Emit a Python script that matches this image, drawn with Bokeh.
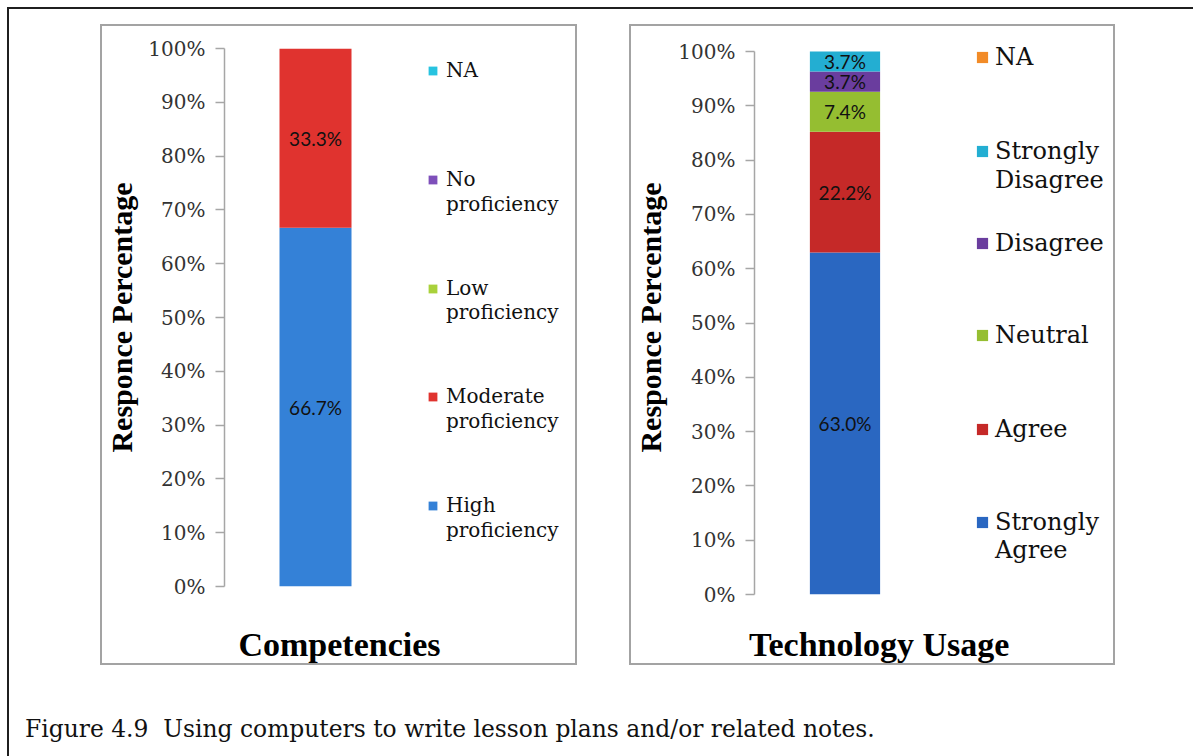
from bokeh.plotting import figure
from bokeh.models import (Range1d, FixedTicker, PrintfTickFormatter, Legend, LegendItem,
                          ColumnDataSource, LinearAxis, Spacer, Div)
from bokeh.layouts import row, column
from bokeh.core.properties import value
from bokeh.embed import file_html
from bokeh.resources import INLINE

# ---------------- data ----------------
comp_categories = ["High proficiency", "Moderate proficiency", "Low proficiency", "No proficiency", "NA"]
comp_values = [66.7, 33.3, 0.0, 0.0, 0.0]
comp_legend_labels = ["High\nproficiency", "Moderate\nproficiency", "Low\nproficiency", "No\nproficiency", "NA"]
comp_colors = ["#3481d7", "#e0332f", "#a9d13b", "#7e4fba", "#27c3e0"]

tech_categories = ["Strongly Agree", "Agree", "Neutral", "Disagree", "Strongly Disagree", "NA"]
tech_values = [63.0, 22.2, 7.4, 3.7, 3.7, 0.0]
tech_legend_labels = ["Strongly\nAgree", "Agree", "Neutral", "Disagree", "Strongly\nDisagree", "NA"]
tech_colors = ["#2a67c1", "#c52928", "#95be31", "#6a3d9e", "#23aed2", "#f28b27"]

y_ticks = list(range(0, 101, 10))
y_title = "Responce Percentage"
comp_title = "Competencies"
tech_title = "Technology Usage"
caption = "Figure 4.9\u00a0 Using computers to write lesson plans and/or related notes."


def make_panel(cats, vals, labels, colors, x_title, g):
    frame_h = g["h"] - g["bt"] - g["bb"]          # pixels of the whole frame
    y_end = 100.0 * frame_h / g["zero_px"]         # frame extends a little above 100 %
    frame_w = g["w"] - g["bl"] - g["br"]
    x_end = g["x0"] + frame_w / g["ppu"]
    p = figure(width=g["w"], height=g["h"], output_backend="svg", toolbar_location=None,
               x_range=Range1d(g["x0"], x_end), y_range=Range1d(0, y_end),
               x_axis_location=None,
               min_border_left=g["bl"], min_border_right=g["br"],
               min_border_top=g["bt"], min_border_bottom=g["bb"],
               styles={"border": "2px solid #a3a3a3"})
    p.outline_line_color = None
    p.xgrid.visible = False
    p.ygrid.visible = False
    p.background_fill_color = "white"
    p.border_fill_color = "white"

    bottoms, tops = [], []
    acc = 0.0
    for v in vals:
        bottoms.append(acc)
        acc += v
        tops.append(acc)
    src = ColumnDataSource(dict(x=[0] * len(cats), bottom=bottoms, top=tops, color=colors, cat=cats))
    r = p.vbar(x="x", bottom="bottom", top="top", width=g["bw"], fill_color="color",
               line_color=None, source=src)
    # empty, invisible renderer used only for the continuation lines of legend labels
    ghost = p.vbar(x=[], bottom=[], top=[], width=g["bw"], fill_alpha=0, line_alpha=0)

    lab_x, lab_y, lab_t = [], [], []
    for b, t, v in zip(bottoms, tops, vals):
        if v > 0:
            lab_x.append(0)
            lab_y.append((b + t) / 2)
            lab_t.append(f"{v:.1f}%")
    p.text(x=lab_x, y=lab_y, text=lab_t, text_align="center", text_baseline="middle",
           text_font=value("Lato"), text_font_size="19px", text_color="#111111")

    ax = p.yaxis[0]
    ax.ticker = FixedTicker(ticks=y_ticks)
    ax.formatter = PrintfTickFormatter(format="%d%%")
    ax.bounds = (0, 100)
    ax.axis_line_color = "#a6a6a6"
    ax.axis_line_width = 1.5
    ax.major_tick_line_color = "#a6a6a6"
    ax.major_tick_line_width = 1.5
    ax.major_tick_out = 9
    ax.major_tick_in = 0
    ax.minor_tick_out = 0
    ax.minor_tick_in = 0
    ax.major_label_standoff = 10
    ax.major_label_text_font = "DejaVu Serif"
    ax.major_label_text_font_size = "20px"
    ax.major_label_text_color = "#333333"
    ax.axis_label = y_title
    ax.axis_label_text_font = "Liberation Serif"
    ax.axis_label_text_font_size = "30px"
    ax.axis_label_text_font_style = "bold"
    ax.axis_label_text_color = "#000000"
    ax.axis_label_standoff = g["ls"]

    # category-axis title under the chart, centred on the panel
    xax = LinearAxis(ticker=FixedTicker(ticks=[g["tx"]]),
                     formatter=PrintfTickFormatter(format=x_title))
    xax.axis_line_color = None
    xax.major_tick_line_color = None
    xax.minor_tick_line_color = None
    xax.major_tick_out = 0
    xax.major_tick_in = 0
    xax.major_label_standoff = g["tst"]
    xax.major_label_text_font = "Liberation Serif"
    xax.major_label_text_font_size = "34px"
    xax.major_label_text_font_style = "bold"
    xax.major_label_text_color = "#000000"
    p.add_layout(xax, "below")

    # legend: one entry per text line; first line carries the colour swatch
    for i in range(len(cats)):
        lines = labels[i].split("\n")
        for j, line in enumerate(lines):
            centre = g["lc"][i][j]                      # px below the 100 % line
            y_bottom = g["zero_px"] - (centre + g["lph"] / 2)
            rend = r if j == 0 else ghost
            leg = Legend(items=[LegendItem(label=line, renderers=[rend], index=i if j == 0 else None)],
                         location=(g["lx"], y_bottom),
                         glyph_width=g["gs"], glyph_height=g["gs"],
                         label_standoff=g["lst"], padding=0, margin=0,
                         label_height=g["lph"], label_text_font="DejaVu Serif",
                         label_text_font_size=g["lf"], label_text_color="#111111",
                         border_line_color=None, background_fill_alpha=0)
            p.add_layout(leg)
    return p


g1 = dict(w=477, h=641, bl=122, br=2, bt=22, bb=81, zero_px=538, x0=-0.91, ppu=100.0, bw=0.72,
          ls=7, tx=0.24, tst=39,
          lx=203, lc=[[457, 482], [348, 373], [240, 264], [131, 156], [22]],
          gs=11, lst=8, lph=25, lf="20px")
g2 = dict(w=486, h=641, bl=119, br=2, bt=14, bb=73, zero_px=543, x0=-0.915, ppu=100.0, bw=0.71,
          ls=8, tx=0.345, tst=31,
          lx=221, lc=[[471, 499], [378], [284], [192], [100, 129], [6]],
          gs=14, lst=6, lph=29, lf="24px")

p1 = make_panel(comp_categories, comp_values, comp_legend_labels, comp_colors, comp_title, g1)
p2 = make_panel(tech_categories, tech_values, tech_legend_labels, tech_colors, tech_title, g2)

cap = Div(text=f'<div style="font-family:\'DejaVu Serif\';font-size:23.4px;color:#111;'
               f'padding-left:11px;padding-top:43px;white-space:pre;">{caption}</div>',
          width=1150, height=84)

top_row = row(Spacer(width=91), column(p1), Spacer(width=52), column(p2), Spacer(width=78))
framed = column(Spacer(height=15), top_row, cap,
                styles={"border-left": "2px solid #1f1f1f", "border-top": "2px solid #1f1f1f"})
layout = column(Spacer(height=7), row(Spacer(width=7), framed))

open("out.html", "w").write(file_html(layout, INLINE))
